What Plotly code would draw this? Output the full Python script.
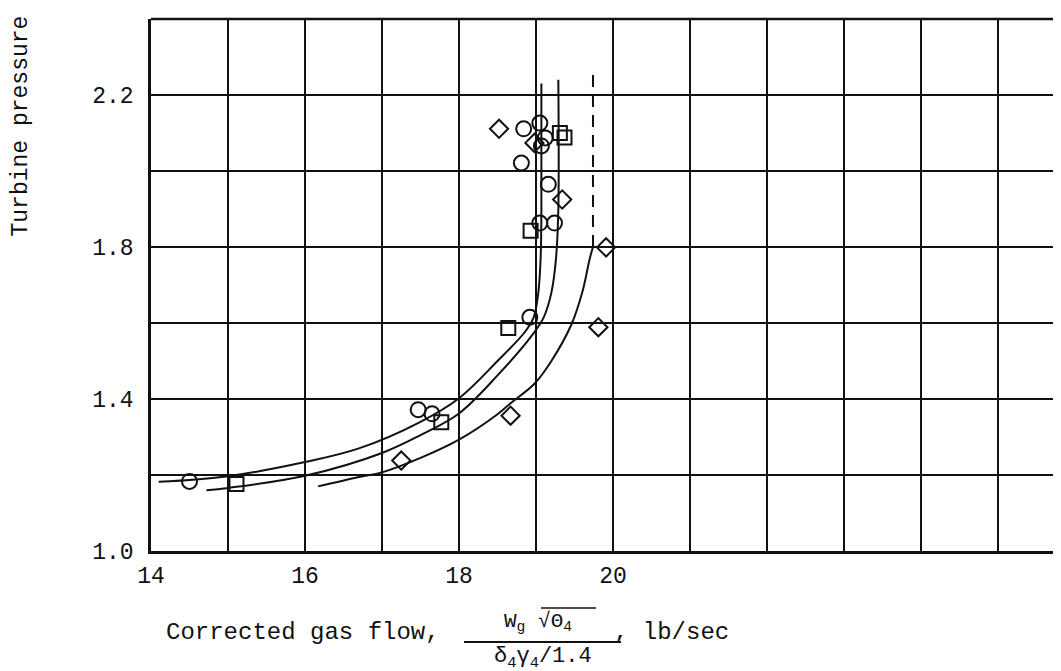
import plotly.graph_objects as go

# ---- data ----
circle_x = [14.50, 17.47, 17.65, 18.92, 19.05, 19.24, 19.16, 18.81, 18.84, 19.05, 19.12, 19.07]
circle_y = [1.183, 1.372, 1.361, 1.615, 1.863, 1.863, 1.965, 2.021, 2.111, 2.126, 2.087, 2.066]

square_x = [15.11, 17.77, 18.64, 18.93, 19.31, 19.37]
square_y = [1.176, 1.339, 1.587, 1.843, 2.100, 2.088]

diamond_x = [17.25, 18.67, 19.81, 19.91, 19.34, 18.52, 18.98]
diamond_y = [1.238, 1.356, 1.589, 1.799, 1.925, 2.111, 2.074]

curve_a_x = [14.10, 15.00, 16.00, 16.70, 17.50, 18.00, 18.50, 18.85, 18.97, 19.03, 19.06, 19.07, 19.07]
curve_a_y = [1.182, 1.197, 1.234, 1.270, 1.340, 1.402, 1.500, 1.575, 1.615, 1.680, 1.770, 1.900, 2.230]

curve_b_x = [14.72, 15.00, 16.00, 17.00, 17.50, 18.00, 18.50, 18.95, 19.10, 19.20, 19.26, 19.29, 19.29]
curve_b_y = [1.160, 1.166, 1.198, 1.258, 1.305, 1.362, 1.462, 1.568, 1.615, 1.680, 1.770, 1.900, 2.240]

curve_c_x = [16.17, 16.70, 17.00, 17.50, 18.00, 18.50, 18.67, 18.98, 19.20, 19.46, 19.60, 19.70, 19.74]
curve_c_y = [1.170, 1.195, 1.207, 1.245, 1.293, 1.360, 1.389, 1.440, 1.500, 1.596, 1.680, 1.771, 1.800]

dashed_x = [19.74, 19.74]
dashed_y = [1.80, 2.265]

x_label_vals = [14, 16, 18, 20]
x_label_text = ["14", "16", "18", "20"]
y_label_vals = [1.0, 1.4, 1.8, 2.2]
y_label_text = ["1.0", "1.4", "1.8", "2.2"]

x_title = "Corrected gas flow,"
x_unit = ", lb/sec"
frac_num = "W<sub>g</sub> √Θ<sub>4</sub>"
frac_den = "δ<sub>4</sub>γ<sub>4</sub>/1.4"
y_title = "Turbine pressure"

# ---- figure ----
INK = "#111111"
FONT = "Liberation Mono, Courier New, DejaVu Sans Mono, monospace"
W, H = 1061, 671
L, R, T, B = 143, 0, 11, 128
PW, PH = W - L - R, H - T - B


def px(xp):
    return (xp - L) / PW


def py(yp):
    return (H - B - yp) / PH


fig = go.Figure()

for cx, cy in [(curve_a_x, curve_a_y), (curve_b_x, curve_b_y), (curve_c_x, curve_c_y)]:
    fig.add_trace(go.Scatter(x=cx, y=cy, mode="lines",
                             line=dict(color=INK, width=2, shape="spline", smoothing=1.0),
                             hoverinfo="skip"))

fig.add_trace(go.Scatter(x=dashed_x, y=dashed_y, mode="lines",
                         line=dict(color=INK, width=2, dash="12px,8px")))

fig.add_trace(go.Scatter(x=circle_x, y=circle_y, mode="markers",
                         marker=dict(symbol="circle-open", size=15, color=INK,
                                     line=dict(width=2, color=INK))))
fig.add_trace(go.Scatter(x=square_x, y=square_y, mode="markers",
                         marker=dict(symbol="square-open", size=14, color=INK,
                                     line=dict(width=2, color=INK))))
fig.add_trace(go.Scatter(x=diamond_x, y=diamond_y, mode="markers",
                         marker=dict(symbol="diamond-open", size=14, color=INK,
                                     line=dict(width=2, color=INK))))

fig.update_layout(
    width=W, height=H,
    margin=dict(l=L, r=R, t=T, b=B),
    paper_bgcolor="white", plot_bgcolor="white",
    showlegend=False,
    font=dict(family=FONT, size=23, color=INK),
    xaxis=dict(range=[14, 14 + PW / 77.0], tickmode="array",
               tickvals=x_label_vals, ticktext=x_label_text,
               showgrid=True, gridcolor=INK, gridwidth=2,
               minor=dict(tick0=14, dtick=1, showgrid=True, gridcolor=INK, gridwidth=2),
               showline=True, linecolor=INK, linewidth=2.5,
               zeroline=False, ticks="", ticklabelstandoff=2,
               tickfont=dict(family=FONT, size=23, color=INK)),
    yaxis=dict(range=[1.0, 2.4], tickmode="array",
               tickvals=y_label_vals, ticktext=y_label_text,
               showgrid=True, gridcolor=INK, gridwidth=2,
               minor=dict(tick0=1.0, dtick=0.2, showgrid=True, gridcolor=INK, gridwidth=2),
               showline=True, linecolor=INK, linewidth=2.5,
               zeroline=False, ticks="", ticklabelstandoff=10,
               tickfont=dict(family=FONT, size=23, color=INK)),
)

# top border of the plotting frame
fig.add_shape(type="line", xref="paper", yref="paper", x0=0, x1=1, y0=1, y1=1,
              line=dict(color=INK, width=2.5))

# x-axis title pieces
fig.add_annotation(text=x_title, xref="paper", yref="paper", x=px(156), y=py(624),
                   xanchor="left", yanchor="middle", showarrow=False,
                   font=dict(family=FONT, size=24, color=INK))
fig.add_annotation(text=frac_num, xref="paper", yref="paper", x=px(530), y=py(614),
                   xanchor="center", yanchor="middle", showarrow=False,
                   font=dict(family=FONT, size=21, color=INK))
fig.add_annotation(text=frac_den, xref="paper", yref="paper", x=px(535), y=py(650),
                   xanchor="center", yanchor="middle", showarrow=False,
                   font=dict(family=FONT, size=22, color=INK))
fig.add_annotation(text=x_unit, xref="paper", yref="paper", x=px(604), y=py(624),
                   xanchor="left", yanchor="middle", showarrow=False,
                   font=dict(family=FONT, size=24, color=INK))
# fraction bar and radical overline
fig.add_shape(type="line", xref="paper", yref="paper", x0=px(456), x1=px(613),
              y0=py(634), y1=py(634), line=dict(color=INK, width=2))
fig.add_shape(type="line", xref="paper", yref="paper", x0=px(533), x1=px(588),
              y0=py(600), y1=py(600), line=dict(color=INK, width=1.5))

# y-axis title (rotated)
fig.add_annotation(text=y_title, xref="paper", yref="paper", x=px(12), y=py(231),
                   xanchor="center", yanchor="bottom", textangle=-90, showarrow=False,
                   font=dict(family=FONT, size=23, color=INK))

fig.write_html("out.html")
